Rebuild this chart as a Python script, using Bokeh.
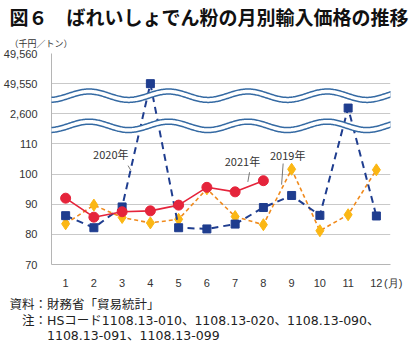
import numpy as np
from bokeh.plotting import figure
from bokeh.models import FixedTicker, Title, PolyAnnotation, ColumnDataSource
from bokeh.core.properties import value
from bokeh.embed import file_html
from bokeh.resources import INLINE

# ---------------- data ----------------
months = [1, 2, 3, 4, 5, 6, 7, 8, 9, 10, 11, 12]
months_2021 = [1, 2, 3, 4, 5, 6, 7, 8]
price_2019 = [83.5, 89.7, 85.6, 83.8, 85.0, 95.1, 85.9, 83.2, 101.6, 81.2, 86.5, 101.4]
price_2020 = [86.2, 82.2, 89.1, 49550, 82.2, 81.8, 83.4, 88.9, 92.9, 86.3, 11500, 86.1]
price_2021 = [92.0, 85.7, 87.5, 87.8, 89.7, 95.6, 94.1, 97.8]
tick_values = [70, 80, 90, 100, 110, 2600, 49550, 49560]
tick_labels = ["70", "80", "90", "100", "110", "2,600", "49,550", "49,560"]
month_labels = ["1", "2", "3", "4", "5", "6", "7", "8", "9", "10", "11", "12"]
series_names = ["2019年", "2020年", "2021年"]

# broken axis: piecewise-linear mapping from real values to plot positions
BREAK_REAL = [70, 110, 2600, 49550, 49560]
BREAK_PLOT = [70, 110, 120, 130, 140]


def to_plot(v):
    return float(np.interp(v, BREAK_REAL, BREAK_PLOT))


tick_pos = [to_plot(v) for v in tick_values]

RED = "#e5243b"
BLUE = "#1f3d8f"
ORANGE = "#f08a1c"
GOLD = "#fbb714"
WAVE = "#356aa3"
GRID = "#c9c9c9"
JP = "'Noto Sans CJK JP'"
NUM = "'Liberation Sans'"
FOOT = "'DejaVu Sans', 'Noto Sans CJK JP'"

p = figure(width=410, height=348, x_range=(0.5, 12.5), y_range=(70, 140),
           output_backend="svg", toolbar_location=None,
           min_border_left=42, min_border_right=20, min_border_top=47, min_border_bottom=84)
p.outline_line_color = None
p.background_fill_color = "white"
p.xgrid.visible = False
p.ygrid.grid_line_color = GRID
p.ygrid.grid_line_width = 1

p.yaxis.ticker = FixedTicker(ticks=tick_pos)
p.yaxis.major_label_overrides = {t: l for t, l in zip(tick_pos, tick_labels)}
# extra tick at the right end of the x axis carries the unit "(月)"
p.xaxis.ticker = FixedTicker(ticks=months + [12.5])
overrides = {m: l for m, l in zip(months, month_labels)}
overrides[12.5] = "\u2002(月)"
p.xaxis.major_label_overrides = overrides
for ax in (p.xaxis, p.yaxis):
    ax.axis_line_color = "#b5b5b5"
    ax.axis_line_width = 1
    ax.major_tick_line_color = None
    ax.minor_tick_line_color = None
    ax.major_label_text_font = NUM
    ax.major_label_text_font_size = "11px"
    ax.major_label_text_color = "#333333"
p.yaxis.major_label_standoff = 8
p.xaxis.major_label_standoff = 6
# blank spacer label: adds a little room between the month labels and the notes
p.xaxis.axis_label = " "
p.xaxis.axis_label_text_font_size = "4px"
p.xaxis.axis_label_standoff = 2

# ---------------- series ----------------
src19 = ColumnDataSource(dict(month=months, price=price_2019,
                              py=[to_plot(v) for v in price_2019]))
src20 = ColumnDataSource(dict(month=months, price=price_2020,
                              py=[to_plot(v) for v in price_2020]))
src21 = ColumnDataSource(dict(month=months_2021, price=price_2021,
                              py=[to_plot(v) for v in price_2021]))

p.line(x="month", y="py", source=src19, line_color=ORANGE, line_width=1.6, line_dash="4 3")
p.scatter(x="month", y="py", source=src19, marker="diamond", size=12,
          fill_color=GOLD, line_color=GOLD)

p.line(x="month", y="py", source=src20, line_color=BLUE, line_width=2, line_dash="7 5")
p.scatter(x="month", y="py", source=src20, marker="square", size=8,
          fill_color=BLUE, line_color=BLUE)

p.line(x="month", y="py", source=src21, line_color=RED, line_width=1.6)
p.scatter(x="month", y="py", source=src21, marker="circle", size=10,
          fill_color=RED, line_color=RED)

# ---------------- series labels with leader lines ----------------
lab_x = [8.86, 2.60, 7.26]
lab_y = [106.4, 106.8, 104.2]
p.text(x=lab_x, y=lab_y, text=series_names, text_font=value("Noto Sans CJK JP"),
       text_font_size="11px", text_color="#333333", text_align="center",
       text_baseline="middle")
p.segment(x0=[8.70, 3.21, 7.51], y0=[103.5, 102.8, 100.6],
          x1=[8.645, 3.31, 7.45], y1=[96.5, 101.2, 97.4],
          line_color="#555555", line_width=0.8)

# ---------------- axis break waves ----------------
wx = np.linspace(-0.93, 13.1, 400)
for c in (126.0, 116.0):
    wy = c + 1.39 * np.cos(2 * np.pi * (wx - 1.828) / 2.81)
    xs = list(np.concatenate([wx, wx[::-1]]))
    ys = list(np.concatenate([wy, wy[::-1]]))
    p.add_layout(PolyAnnotation(xs=xs, ys=ys, fill_color=None, fill_alpha=0,
                                line_color=WAVE, line_alpha=1.0, line_width=6.5,
                                line_join="round"))
    p.add_layout(PolyAnnotation(xs=xs, ys=ys, fill_color=None, fill_alpha=0,
                                line_color="white", line_alpha=1.0, line_width=3.5,
                                line_join="round"))

# ---------------- texts outside the frame (side-panel titles) ----------------
p.add_layout(Title(text="（千円／トン）", align="left", offset=-42, standoff=8,
                   text_font=JP, text_font_size="9px", text_font_style="normal",
                   text_color="#333333"), "above")
p.title = Title(text="図６　ばれいしょでん粉の月別輸入価格の推移", align="left", offset=-42,
                standoff=1, text_font=JP, text_font_size="19px", text_font_style="bold",
                text_color="#111111")

footer = ("資料：財務省「貿易統計」\n"
          "\u3000注：HSコード1108.13-010、1108.13-020、1108.13-090、\n"
          "\u3000\u3000\u30001108.13-091、1108.13-099")
p.add_layout(Title(text=footer, align="left", offset=-42, standoff=-12,
                   text_font=FOOT, text_font_size="12.5px", text_font_style="normal",
                   text_line_height=1.04, text_color="#222222"), "below")

open("out.html", "w").write(file_html(p, INLINE))
